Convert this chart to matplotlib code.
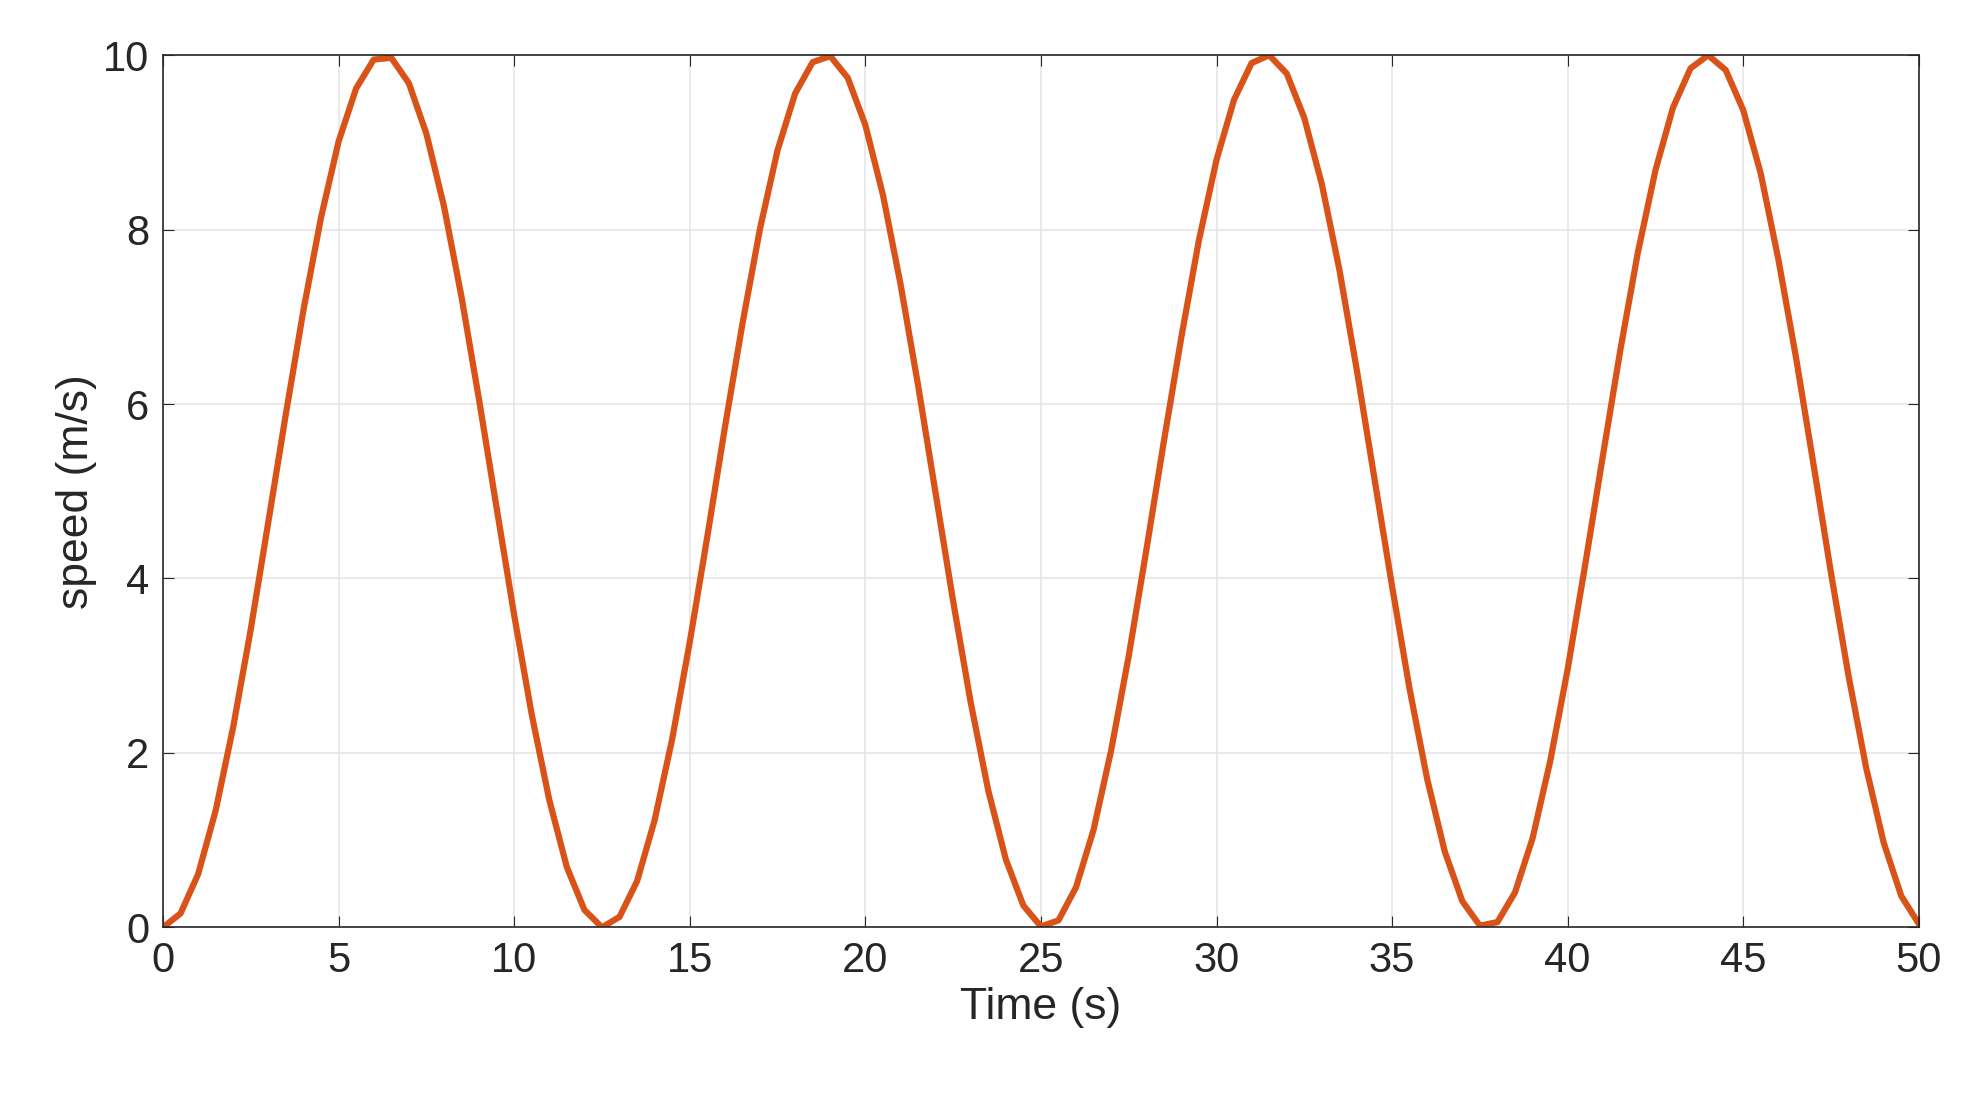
import matplotlib.pyplot as plt

plt.rcParams['font.family'] = ['Liberation Sans', 'DejaVu Sans']

# speed samples every 0.5 s
time_s = [i * 0.5 for i in range(101)]
speed = [0.00, 0.16, 0.61, 1.34, 2.30, 3.42, 4.65, 5.89, 7.08, 8.14,
         9.01, 9.62, 9.95, 9.97, 9.68, 9.10, 8.27, 7.23, 6.05, 4.81,
         3.58, 2.44, 1.46, 0.69, 0.20, 0.00, 0.12, 0.53, 1.23, 2.16,
         3.27, 4.48, 5.73, 6.92, 8.01, 8.91, 9.56, 9.92, 9.99, 9.74,
         9.20, 8.40, 7.38, 6.22, 4.98, 3.74, 2.58, 1.57, 0.78, 0.25,
         0.01, 0.08, 0.46, 1.12, 2.03, 3.11, 4.32, 5.57, 6.77, 7.88,
         8.80, 9.49, 9.91, 10.00, 9.79, 9.28, 8.52, 7.54, 6.38, 5.14,
         3.91, 2.73, 1.70, 0.87, 0.30, 0.02, 0.06, 0.40, 1.02, 1.90,
         2.96, 4.16, 5.40, 6.62, 7.74, 8.68, 9.40, 9.85, 10.00, 9.83,
         9.37, 8.64, 7.66, 6.54, 5.31, 4.06, 2.88, 1.83, 0.97, 0.36,
         0.04]
x_ticks = [0, 5, 10, 15, 20, 25, 30, 35, 40, 45, 50]
y_ticks = [0, 2, 4, 6, 8, 10]

fig = plt.figure(figsize=(19.64, 11.04), dpi=100)
ax = fig.add_axes([0.083, 0.16, 0.894, 0.79])
ax.plot(time_s, speed, color='#D95319', linewidth=4.5,
        solid_joinstyle='round', solid_capstyle='round')
ax.set_xlim(0, 50)
ax.set_ylim(0, 10)
ax.set_xticks(x_ticks)
ax.set_yticks(y_ticks)
ax.grid(True, color='#e6e6e6', linewidth=1.2)
ax.set_axisbelow(True)
ax.tick_params(direction='in', top=True, right=True, labelsize=30, length=8,
               colors='#262626', pad=10)
for s in ax.spines.values():
    s.set_color('#262626')
    s.set_linewidth(1.2)
ax.set_xlabel('Time (s)', fontsize=32, color='#262626', labelpad=4)
ax.set_ylabel('speed (m/s)', fontsize=32, color='#262626')
fig.savefig('out.png')
